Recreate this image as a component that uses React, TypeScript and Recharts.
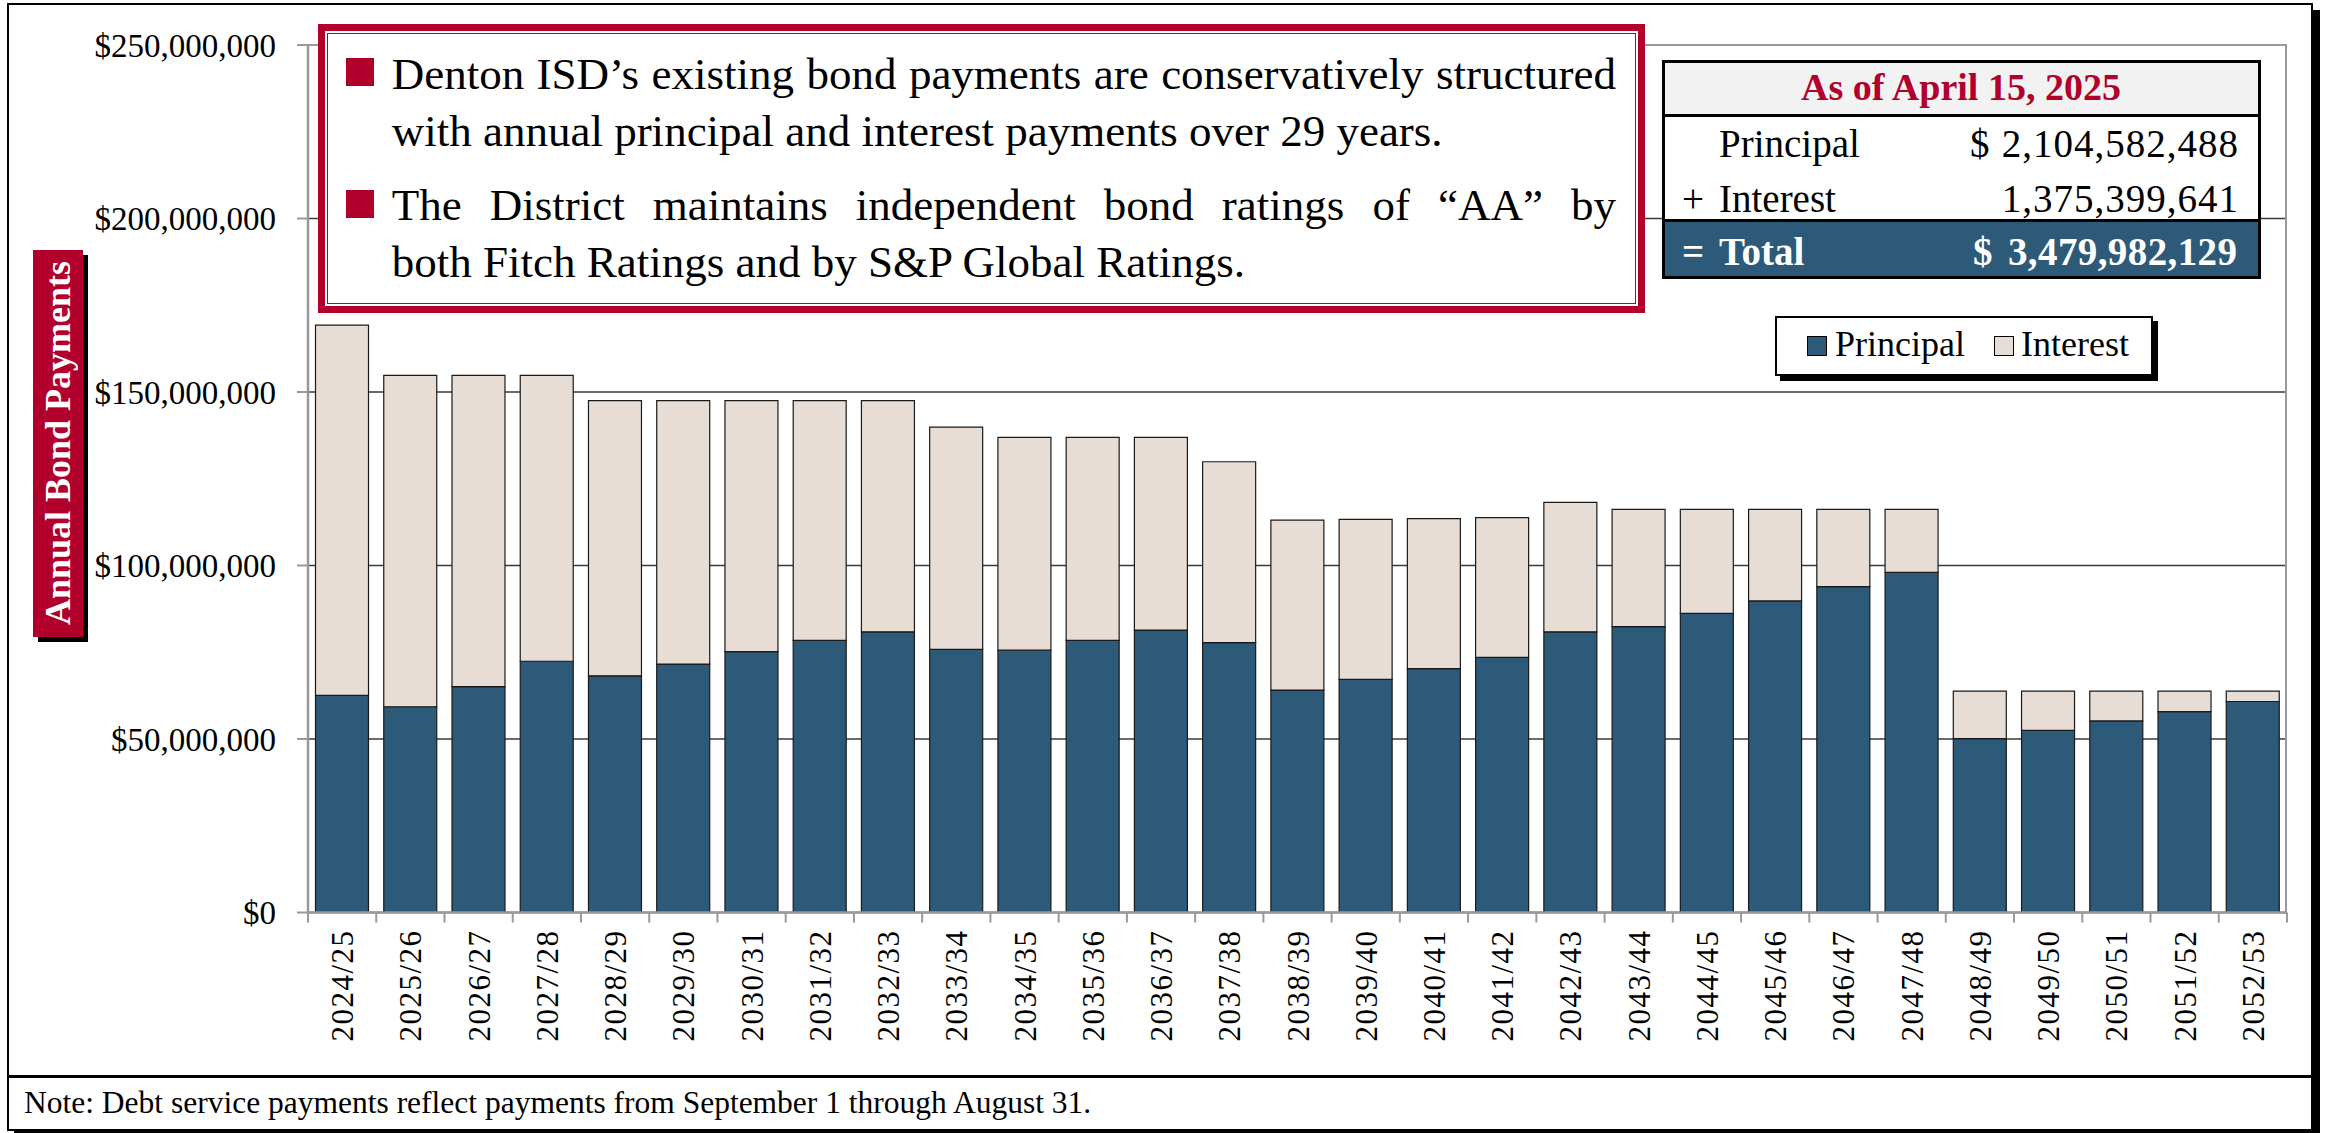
import React from "react";
import { BarChart, Bar, XAxis, YAxis, CartesianGrid } from "recharts";

// fiscal years and payments, in millions of dollars
const years = [
  "2024/25", "2025/26", "2026/27", "2027/28", "2028/29", "2029/30", "2030/31", "2031/32",
  "2032/33", "2033/34", "2034/35", "2035/36", "2036/37", "2037/38", "2038/39", "2039/40",
  "2040/41", "2041/42", "2042/43", "2043/44", "2044/45", "2045/46", "2046/47", "2047/48",
  "2048/49", "2049/50", "2050/51", "2051/52", "2052/53",
];

const principal = [
  62.6, 59.3, 65.1, 72.4, 68.2, 71.6, 75.2, 78.4, 80.9, 75.8, 75.6, 78.4, 81.4, 77.8, 64.1,
  67.2, 70.3, 73.5, 80.9, 82.4, 86.2, 89.8, 93.9, 98.0, 50.1, 52.5, 55.2, 57.9, 60.8,
];

const interest = [
  106.7, 95.5, 89.7, 82.4, 79.3, 75.9, 72.3, 69.1, 66.6, 64.1, 61.3, 58.5, 55.5, 52.1, 49.0,
  46.1, 43.2, 40.3, 37.3, 33.8, 30.0, 26.4, 22.3, 18.2, 13.7, 11.3, 8.6, 5.9, 3.0,
];

const yTicks = [0, 50e6, 100e6, 150e6, 200e6, 250e6];

const bullets = [
  {
    lines: [
      "Denton ISD\u2019s existing bond payments are conservatively structured",
      "with annual principal and interest payments over 29 years.",
    ],
  },
  {
    lines: [
      "The District maintains independent bond ratings of \u201CAA\u201D by",
      "both Fitch Ratings and by S&P Global Ratings.",
    ],
  },
];

const summaryTitle = "As of April 15, 2025";
const summaryPrincipal = "2,104,582,488";
const summaryInterest = "1,375,399,641";
const summaryTotal = "3,479,982,129";

const note = "Note: Debt service payments reflect payments from September 1 through August 31.";

const W = 2326;
const H = 1133;
const SERIF = '"Liberation Serif", "Times New Roman", serif';
const RED = "#B0002B";
const BLUE = "#2C5A78";
const TAN = "#E8DDD4";

const data = years.map((year, i) => ({
  year,
  principal: principal[i] * 1e6,
  interest: interest[i] * 1e6,
}));

const money = (v: number) => "$" + v.toLocaleString("en-US");

// text placed by its baseline
function Txt({ x, base, fs, children, anchor = "start", bold = false, color = "#000", spacing = 0 }: any) {
  const style: React.CSSProperties = {
    position: "absolute",
    top: base - 0.8375 * fs,
    fontSize: fs,
    lineHeight: `${fs}px`,
    whiteSpace: "nowrap",
    fontWeight: bold ? 700 : 400,
    letterSpacing: spacing,
    color,
  };
  if (anchor === "end") style.right = W - x - spacing;
  else if (anchor === "middle") {
    style.left = x;
    style.transform = "translateX(-50%)";
  } else style.left = x;
  return <div style={style}>{children}</div>;
}

function Justified({ x, base, fs, width, text }: any) {
  return (
    <div
      style={{
        position: "absolute",
        left: x,
        top: base - 0.8375 * fs,
        width,
        fontSize: fs,
        lineHeight: `${fs}px`,
        display: "flex",
        justifyContent: "space-between",
        whiteSpace: "nowrap",
      }}
    >
      {text.split(" ").map((w: string, i: number) => (
        <span key={i}>{w}</span>
      ))}
    </div>
  );
}

const YearTick = (props: any) => {
  const { x, y, payload, index } = props;
  const half = payload && payload.offset ? payload.offset : 34.12;
  return (
    <g>
      <line x1={x - half} x2={x - half} y1={y} y2={y + 10} stroke="#999" strokeWidth={2} />
      {index === years.length - 1 && (
        <line x1={x + half} x2={x + half} y1={y} y2={y + 10} stroke="#999" strokeWidth={2} />
      )}
      <text
        transform={`translate(${x + 11},${y + 129}) rotate(-90)`}
        textAnchor="start"
        fontSize={31}
        letterSpacing={1.5}
        fontFamily={SERIF}
        fill="#000"
      >
        {payload.value}
      </text>
    </g>
  );
};

export default function App() {
  const lineBases = [
    [90, 146.7],
    [221, 277.7],
  ];
  return (
    <div style={{ position: "relative", width: W, height: H, overflow: "hidden", fontFamily: SERIF, background: "#fff" }}>
      <style>{`body{margin:0}`}</style>

      {/* outer frame */}
      <div
        style={{
          position: "absolute",
          left: 7,
          top: 3,
          width: 2313 - 7,
          height: 1131 - 3,
          border: "2.5px solid #000",
          boxSizing: "border-box",
          boxShadow: "7px 7px 0 #000",
        }}
      />

      <div style={{ position: "absolute", left: 0, top: 0 }}>
        <BarChart
          width={W}
          height={H}
          data={data}
          margin={{ top: 45, right: 39, left: 8, bottom: 60.5 }}
          barCategoryGap="11%"
        >
          <CartesianGrid vertical={false} stroke="#3a3a3a" strokeWidth={1.5} />
          <XAxis
            dataKey="year"
            height={160}
            interval={0}
            tickSize={0}
            tickMargin={0}
            tickLine={false}
            axisLine={{ stroke: "#999", strokeWidth: 2.5 }}
            tick={<YearTick />}
          />
          <YAxis
            width={300}
            domain={[0, 250e6]}
            ticks={yTicks}
            interval={0}
            tickSize={11}
            tickMargin={21}
            tickFormatter={money}
            axisLine={{ stroke: "#999", strokeWidth: 2.5 }}
            tickLine={{ stroke: "#999", strokeWidth: 2 }}
            tick={{ fontSize: 33, fill: "#000", fontFamily: SERIF }}
          />
          <Bar dataKey="principal" stackId="a" fill={BLUE} stroke="#1a1a1a" strokeWidth={1.2} isAnimationActive={false} />
          <Bar dataKey="interest" stackId="a" fill={TAN} stroke="#1a1a1a" strokeWidth={1.2} isAnimationActive={false} />
        </BarChart>
      </div>

      {/* plot area border (top and right) */}
      <div
        style={{
          position: "absolute",
          left: 308,
          top: 44,
          width: 2287 - 308,
          height: 869,
          borderTop: "2px solid #999",
          borderRight: "2px solid #999",
          boxSizing: "border-box",
        }}
      />

      {/* bullet box */}
      <div
        style={{
          position: "absolute",
          left: 318,
          top: 24,
          width: 1645 - 318,
          height: 313 - 24,
          border: `7px solid ${RED}`,
          boxSizing: "border-box",
          background: "#fff",
        }}
      >
        <div style={{ position: "absolute", left: 2, top: 2, right: 2, bottom: 2, border: `1.5px solid ${RED}` }} />
      </div>
      {bullets.map((b, bi) => (
        <React.Fragment key={bi}>
          <div
            style={{
              position: "absolute",
              left: 346,
              top: bi === 0 ? 57.5 : 189.5,
              width: 28,
              height: 28,
              background: RED,
            }}
          />
          <Justified x={391.7} base={lineBases[bi][0]} fs={45} width={1616 - 391.7} text={b.lines[0]} />
          <Txt x={391.7} base={lineBases[bi][1]} fs={45}>
            {b.lines[1]}
          </Txt>
        </React.Fragment>
      ))}

      {/* summary table */}
      <div
        style={{
          position: "absolute",
          left: 1662,
          top: 60,
          width: 2261 - 1662,
          height: 279 - 60,
          border: "3px solid #000",
          boxSizing: "border-box",
          background: "#fff",
        }}
      >
        <div style={{ position: "absolute", left: 0, right: 0, top: 0, height: 51, background: "#F2F2F2", borderBottom: "3px solid #000" }} />
        <div style={{ position: "absolute", left: 0, right: 0, bottom: 0, height: 54, background: BLUE, borderTop: "3px solid #000" }} />
      </div>
      <Txt x={1961} base={100} fs={38} anchor="middle" bold color={RED}>
        {summaryTitle}
      </Txt>
      <Txt x={1719} base={157} fs={39}>Principal</Txt>
      <Txt x={1970} base={157} fs={39}>$</Txt>
      <Txt x={2238} base={157} fs={39} anchor="end" spacing={1}>{summaryPrincipal}</Txt>
      <Txt x={1682} base={212} fs={39}>+</Txt>
      <Txt x={1719} base={212} fs={39}>Interest</Txt>
      <Txt x={2238} base={212} fs={39} anchor="end" spacing={1}>{summaryInterest}</Txt>
      <Txt x={1682} base={265} fs={39} bold color="#fff">=</Txt>
      <Txt x={1719} base={265} fs={39} bold color="#fff">Total</Txt>
      <Txt x={1973} base={265} fs={39} bold color="#fff">$</Txt>
      <Txt x={2237} base={265} fs={39} anchor="end" bold color="#fff" spacing={0.4}>{summaryTotal}</Txt>

      {/* legend */}
      <div
        style={{
          position: "absolute",
          left: 1775,
          top: 316,
          width: 378,
          height: 60,
          border: "2px solid #000",
          boxSizing: "border-box",
          background: "#fff",
          boxShadow: "5px 5px 0 #000",
        }}
      />
      <div style={{ position: "absolute", left: 1807, top: 336, width: 20, height: 20, background: BLUE, border: "1px solid #000", boxSizing: "border-box" }} />
      <Txt x={1835} base={356} fs={36}>Principal</Txt>
      <div style={{ position: "absolute", left: 1994, top: 336, width: 20, height: 20, background: TAN, border: "1px solid #000", boxSizing: "border-box" }} />
      <Txt x={2021} base={356} fs={36}>Interest</Txt>

      {/* y axis title */}
      <div
        style={{
          position: "absolute",
          left: 33,
          top: 250,
          width: 50,
          height: 387,
          background: RED,
          boxShadow: "5px 5px 0 #000",
          display: "flex",
          alignItems: "center",
          justifyContent: "center",
        }}
      >
        <span
          style={{
            writingMode: "vertical-rl",
            transform: "rotate(180deg)",
            color: "#fff",
            fontWeight: 700,
            fontSize: 36,
            lineHeight: "36px",
            whiteSpace: "nowrap",
          }}
        >
          Annual Bond Payments
        </span>
      </div>

      {/* note */}
      <div style={{ position: "absolute", left: 7, top: 1075, width: 2313 - 7, height: 2.5, background: "#000" }} />
      <Txt x={24} base={1113} fs={31.5}>{note}</Txt>
    </div>
  );
}
